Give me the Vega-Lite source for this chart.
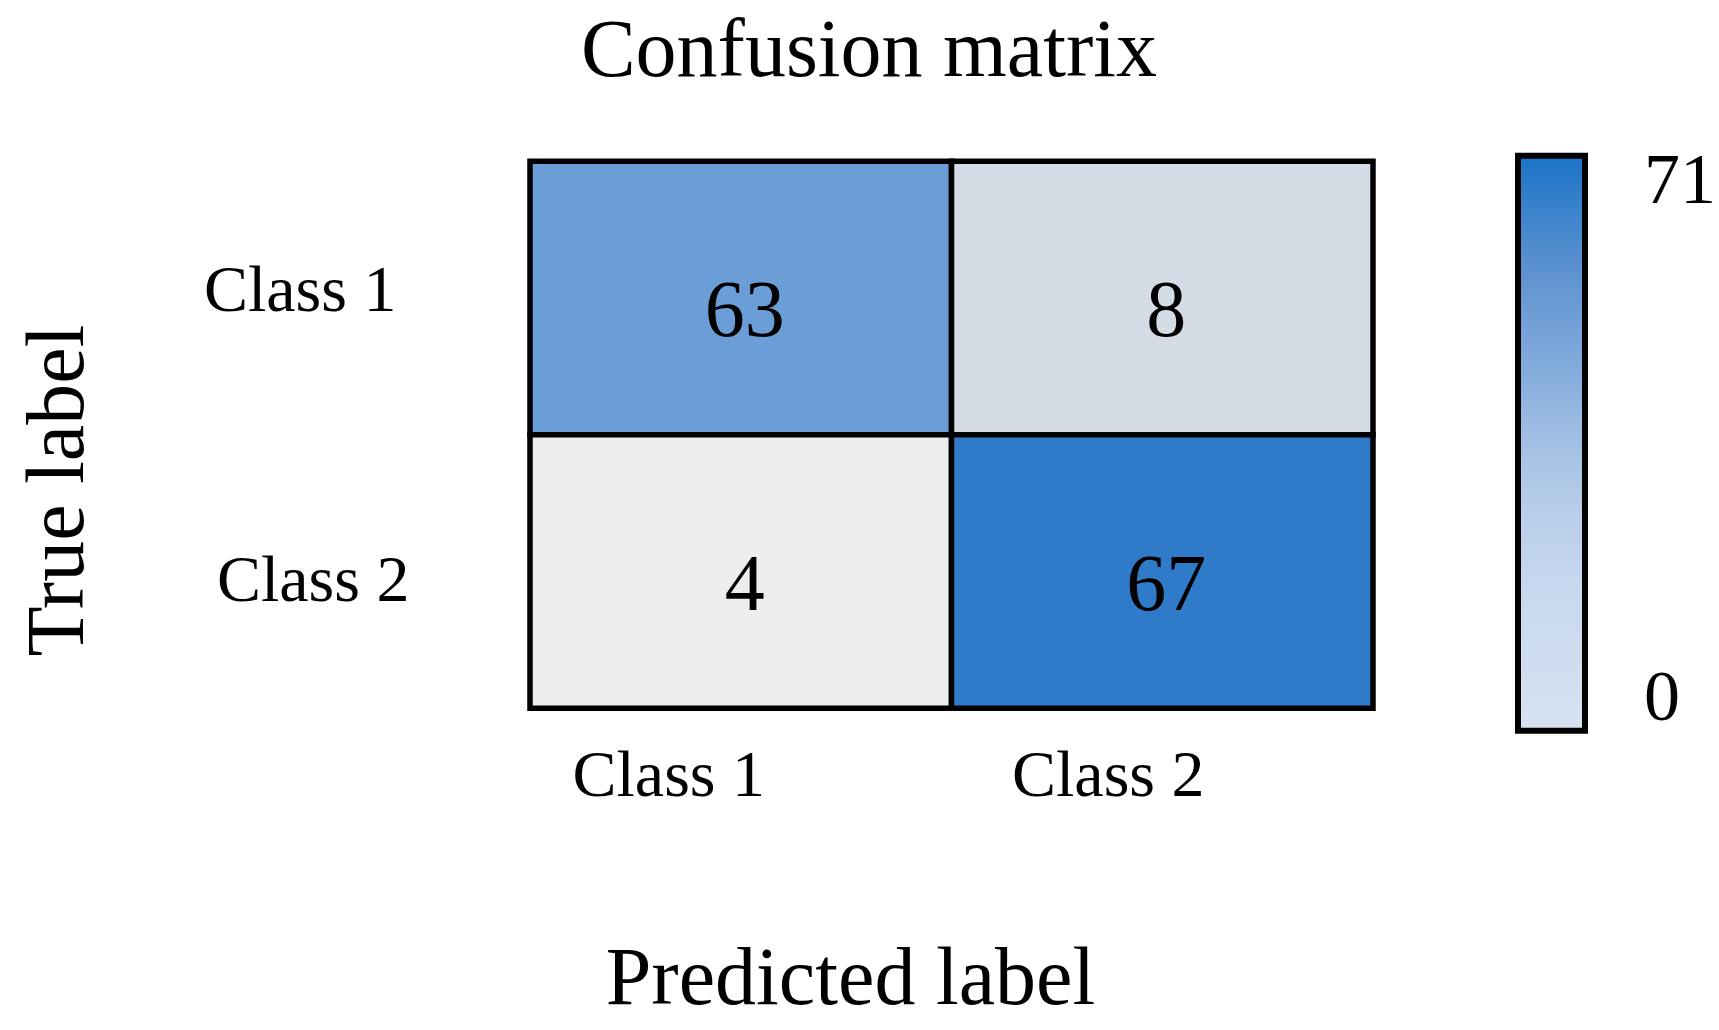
{
  "$schema": "https://vega.github.io/schema/vega-lite/v6.json",
  "width": 843,
  "height": 547,
  "autosize": "none",
  "padding": {"left": 530, "top": 161.3, "right": 346, "bottom": 321.7},
  "background": "white",
  "title": {
    "text": "Confusion matrix",
    "font": "Liberation Serif",
    "fontSize": 82,
    "fontWeight": "normal",
    "color": "black",
    "anchor": "middle",
    "frame": "group",
    "dx": -82.5,
    "baseline": "alphabetic",
    "offset": -2
  },
  "data": {
    "values": [
      {"actual": "Class 1", "predicted": "Class 1", "count": 63},
      {"actual": "Class 1", "predicted": "Class 2", "count": 8},
      {"actual": "Class 2", "predicted": "Class 1", "count": 4},
      {"actual": "Class 2", "predicted": "Class 2", "count": 67}
    ]
  },
  "encoding": {
    "x": {
      "field": "predicted",
      "type": "nominal",
      "sort": ["Class 1", "Class 2"],
      "scale": {"paddingInner": 0, "paddingOuter": 0},
      "axis": {
        "orient": "bottom",
        "title": "Predicted label",
        "domain": false,
        "ticks": false,
        "tickSize": 0,
        "grid": false,
        "labelAngle": 0,
        "labelFont": "Liberation Serif",
        "labelFontSize": 66,
        "labelColor": "black",
        "labelPadding": 87,
        "labelBaseline": "alphabetic",
        "labelOffset": {"condition": {"test": "datum.value === 'Class 1'", "value": -72}, "value": -54},
        "labelLimit": 0,
        "titleFont": "Liberation Serif",
        "titleFontSize": 82,
        "titleFontWeight": "normal",
        "titleColor": "black",
        "titleX": 320,
        "titleY": 295,
        "titleAlign": "center",
        "titleBaseline": "alphabetic"
      }
    },
    "y": {
      "field": "actual",
      "type": "nominal",
      "sort": ["Class 1", "Class 2"],
      "scale": {"paddingInner": 0, "paddingOuter": 0},
      "axis": {
        "title": "True label",
        "domain": false,
        "ticks": false,
        "tickSize": 0,
        "grid": false,
        "labelFont": "Liberation Serif",
        "labelFontSize": 66,
        "labelColor": "black",
        "labelAlign": "right",
        "labelBaseline": "middle",
        "labelPadding": {"condition": {"test": "datum.value === 'Class 1'", "value": 134}, "value": 121},
        "labelOffset": {"condition": {"test": "datum.value === 'Class 1'", "value": -7}, "value": 9},
        "labelLimit": 0,
        "titleFont": "Liberation Serif",
        "titleFontSize": 82,
        "titleFontWeight": "normal",
        "titleColor": "black",
        "titleAngle": 270,
        "titleX": -448,
        "titleY": 328.7,
        "titleAlign": "center",
        "titleBaseline": "alphabetic"
      }
    }
  },
  "layer": [
    {
      "mark": {"type": "rect", "stroke": "black", "strokeWidth": 5.5},
      "encoding": {
        "color": {
          "field": "count",
          "type": "quantitative",
          "scale": {
            "type": "linear",
            "domain": [4, 8, 63, 67],
            "range": ["#ededed", "#d4dde6", "#6b9dd6", "#2f7bca"],
            "interpolate": "rgb",
            "nice": false,
            "zero": false
          },
          "legend": null
        }
      }
    },
    {
      "mark": {"type": "point", "size": 0, "filled": true, "strokeWidth": 0, "opacity": 1},
      "encoding": {
        "fill": {
          "field": "count",
          "type": "quantitative",
          "scale": {
            "type": "linear",
            "domain": [-4.5, 15.3, 27.1, 35, 42.9, 58.7, 74.5],
            "range": ["#d6e2f2", "#c7d8ee", "#b6cce9", "#a3c0e4", "#8ab0de", "#5f92d0", "#1a73c8"],
            "interpolate": "rgb",
            "nice": false,
            "zero": false
          },
          "legend": {
            "orient": "none",
            "legendX": 988,
            "legendY": -5.6,
            "direction": "vertical",
            "title": null,
            "padding": 0,
            "offset": 0,
            "gradientLength": 575,
            "gradientThickness": 67,
            "gradientStrokeColor": "black",
            "gradientStrokeWidth": 6,
            "gradientOpacity": 1,
            "values": [0, 71],
            "labelFont": "Liberation Serif",
            "labelFontSize": 72,
            "labelColor": "black",
            "labelOffset": 59,
            "labelOverlap": false
          }
        }
      }
    },
    {
      "mark": {
        "type": "text",
        "font": "Liberation Serif",
        "fontSize": 80,
        "baseline": "alphabetic",
        "align": "center",
        "dx": 4,
        "dy": 38,
        "color": "black"
      },
      "encoding": {
        "text": {"field": "count", "type": "quantitative"}
      }
    }
  ],
  "config": {
    "view": {"stroke": null}
  }
}
